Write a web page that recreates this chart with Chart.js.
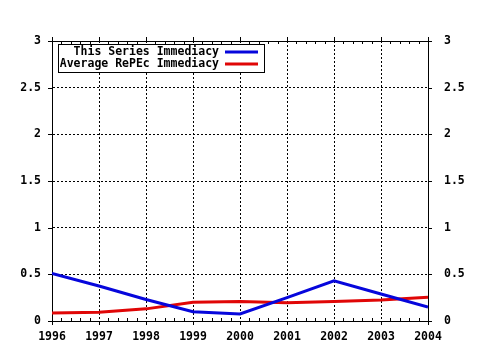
<!DOCTYPE html>
<html>
<head>
<meta charset="utf-8">
<script src="https://cdn.jsdelivr.net/npm/chart.js@4"></script>
<style>
  html, body { margin: 0; padding: 0; background: #fff; }
  #wrap { width: 480px; height: 350px; }
</style>
</head>
<body>
<div id="wrap"><canvas id="chart1"></canvas></div>
<script>
var years = [1996, 1997, 1998, 1999, 2000, 2001, 2002, 2003, 2004]
var seriesImmediacy = [0.51, 0.375, 0.23, 0.10, 0.075, 0.25, 0.43, 0.29, 0.15]
var repecImmediacy = [0.085, 0.095, 0.13, 0.20, 0.21, 0.195, 0.21, 0.225, 0.255]
var seriesNames = ['This Series Immediacy', 'Average RePEc Immediacy']

var blue = '#0606dc'
var red = '#e00606'
var FONT = 'bold 11.5px "DejaVu Sans Mono", monospace'

function toPoints(vals) {
    var pts = []
    for (var i = 0; i < years.length; i++) {
        pts.push({x: years[i], y: vals[i]})
    }
    return pts
}

// frame, top line and the small minor/major tick marks
var framePlugin = {
    id: 'frame',
    afterDraw: function(chart) {
        var ctx = chart.ctx
        var a = chart.chartArea
        var xs = chart.scales.x
        var ys = chart.scales.y
        ctx.save()
        ctx.strokeStyle = '#000'
        ctx.lineWidth = 1
        ctx.beginPath()
        ctx.moveTo(a.left, a.top + 0.5)
        ctx.lineTo(a.right, a.top + 0.5)
        for (var i = 0; i < years.length; i++) {
            var px = Math.round(xs.getPixelForValue(years[i])) + 0.5
            ctx.moveTo(px, a.bottom); ctx.lineTo(px, a.bottom + 4)
            ctx.moveTo(px, a.top - 4); ctx.lineTo(px, a.top)
            if (i < years.length - 1) {
                for (var j = 1; j < 5; j++) {
                    var mx = Math.round(xs.getPixelForValue(years[i] + j / 5)) + 0.5
                    ctx.moveTo(mx, a.bottom); ctx.lineTo(mx, a.bottom - 3)
                    ctx.moveTo(mx, a.top); ctx.lineTo(mx, a.top + 3)
                }
            }
        }
        for (var v = 0; v <= 3; v += 0.5) {
            var py = Math.round(ys.getPixelForValue(v)) + 0.5
            ctx.moveTo(a.left - 4, py); ctx.lineTo(a.left, py)
            ctx.moveTo(a.right, py); ctx.lineTo(a.right + 4, py)
        }
        ctx.stroke()
        ctx.restore()
    }
}

// boxed legend in the top left corner
var legendPlugin = {
    id: 'boxLegend',
    afterDraw: function(chart) {
        var ctx = chart.ctx
        var a = chart.chartArea
        var cols = [blue, red]
        ctx.save()
        ctx.fillStyle = '#fff'
        ctx.fillRect(a.left + 6, a.top + 3, 206, 28)
        ctx.strokeStyle = '#000'
        ctx.lineWidth = 1
        ctx.strokeRect(a.left + 6.5, a.top + 3.5, 206, 28)
        ctx.font = FONT
        ctx.textAlign = 'right'
        ctx.textBaseline = 'middle'
        for (var i = 0; i < seriesNames.length; i++) {
            var cy = a.top + 11 + i * 12
            ctx.fillStyle = '#000'
            ctx.fillText(seriesNames[i], a.left + 167, cy)
            ctx.strokeStyle = cols[i]
            ctx.lineWidth = 3
            ctx.beginPath()
            ctx.moveTo(a.left + 173, cy)
            ctx.lineTo(a.left + 206, cy)
            ctx.stroke()
        }
        ctx.restore()
    }
}

var lineChartData = {
    datasets: [{
        label: seriesNames[0],
        borderColor: blue,
        backgroundColor: blue,
        borderWidth: 3,
        pointRadius: 0,
        data: toPoints(seriesImmediacy),
    }, {
        label: seriesNames[1],
        borderColor: red,
        backgroundColor: red,
        borderWidth: 3,
        pointRadius: 0,
        data: toPoints(repecImmediacy),
    }]
}

var tickFont = {family: '"DejaVu Sans Mono", monospace', size: 11.5, weight: 'bold'}

window.onload = function() {
    new Chart(document.getElementById('chart1'), {
        type: 'line',
        data: lineChartData,
        plugins: [framePlugin, legendPlugin],
        options: {
            responsive: true,
            maintainAspectRatio: false,
            animation: false,
            layout: {padding: {top: 41, left: 0, right: 0, bottom: 0}},
            plugins: {legend: {display: false}, tooltip: {enabled: false}},
            scales: {
                x: {
                    type: 'linear',
                    min: 1996, max: 2004,
                    grid: {color: '#000', drawTicks: false},
                    border: {display: true, color: '#000', dash: [2, 2]},
                    ticks: {stepSize: 1, color: '#000', font: tickFont, padding: 9, maxRotation: 0,
                            callback: function(v) { return String(v) }},
                    afterFit: function(s) { s.height = 29 }
                },
                y: {
                    position: 'left',
                    min: 0, max: 3,
                    grid: {color: '#000', drawTicks: false},
                    border: {display: true, color: '#000', dash: [2, 2]},
                    ticks: {stepSize: 0.5, color: '#000', font: tickFont, padding: 11,
                            callback: function(v) { return String(v) }},
                    afterFit: function(s) { s.width = 52 }
                },
                y2: {
                    position: 'right',
                    min: 0, max: 3,
                    grid: {drawOnChartArea: false, drawTicks: false},
                    border: {display: true, color: '#000'},
                    ticks: {stepSize: 0.5, color: '#000', font: tickFont, padding: 16,
                            callback: function(v) { return String(v) }},
                    afterFit: function(s) { s.width = 52 }
                }
            }
        }
    })
}
</script>
</body>
</html>
